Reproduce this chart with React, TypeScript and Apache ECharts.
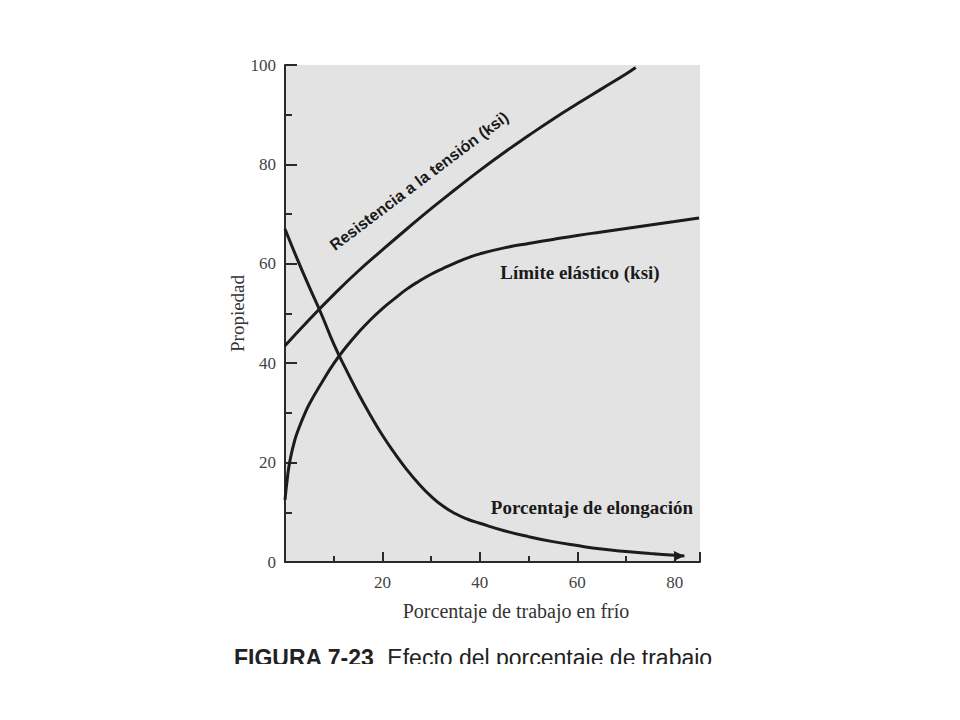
import React, { useEffect, useRef } from "react";
import * as echarts from "echarts";

const xTickLabels = [0, 20, 40, 60, 80];
const yTickLabels = [0, 20, 40, 60, 80, 100];

const tensileX = [0, 5, 10, 15, 20, 25, 30, 35, 40, 45, 50, 55, 60, 65, 70, 72];
const tensileY = [43.5, 48.8, 53.8, 58.5, 62.8, 67.0, 71.1, 75.0, 78.8, 82.4, 85.8, 89.1, 92.2, 95.2, 98.2, 99.5];

const yieldX = [0, 0.5, 1, 2, 3, 4, 5, 7.5, 10, 12.5, 15, 17.5, 20, 22.5, 25, 27.5, 30, 32.5, 35, 37.5, 40, 45, 50, 55, 60, 65, 70, 75, 80, 85];
const yieldY = [12.5, 17, 20.3, 24.5, 27.3, 29.7, 31.8, 36.0, 39.9, 43.2, 46.1, 48.7, 51.0, 53.0, 54.9, 56.5, 57.9, 59.1, 60.2, 61.2, 62.0, 63.2, 64.1, 64.9, 65.7, 66.4, 67.1, 67.8, 68.5, 69.2];

const elongX = [0, 2.5, 5, 7.5, 10, 12.5, 15, 17.5, 20, 22.5, 25, 27.5, 30, 32.5, 35, 37.5, 40, 45, 50, 55, 60, 65, 70, 75, 80, 82];
const elongY = [67, 61, 55.3, 49.8, 43.9, 38.8, 34.0, 29.6, 25.5, 21.9, 18.6, 15.7, 13.2, 11.2, 9.7, 8.6, 7.8, 6.3, 5.1, 4.1, 3.3, 2.6, 2.1, 1.7, 1.35, 1.2];

const seriesNames = ["Resistencia a la tensión (ksi)", "Límite elástico (ksi)", "Porcentaje de elongación"];
const xAxisName = "Porcentaje de trabajo en frío";
const yAxisName = "Propiedad";
const captionBold = "FIGURA 7-23";
const captionRest = "  Efecto del porcentaje de trabajo";

const zip = (xs: number[], ys: number[]) => xs.map((x, i) => [x, ys[i]]);

export default function App() {
  const ref = useRef<HTMLDivElement>(null);
  useEffect(() => {
    if (!ref.current) return;
    const chart = echarts.init(ref.current, undefined, { renderer: "svg" });
    const lineColor = "#1c1c1c";
    const serif = "'Liberation Serif', 'DejaVu Serif', serif";
    const elongData: any[] = zip(elongX, elongY).map((p, i, arr) =>
      i === arr.length - 1
        ? { value: p, symbol: "arrow", symbolSize: [8, 11], symbolRotate: -90, itemStyle: { color: lineColor } }
        : { value: p, symbol: "none" }
    );
    const lineSeries = (name: string, data: any[]) => ({
      name,
      type: "line",
      data,
      smooth: 0.5,
      symbol: "none",
      lineStyle: { color: lineColor, width: 3 },
    });
    chart.setOption({
      animation: false,
      backgroundColor: "#ffffff",
      grid: {
        left: 285,
        top: 65,
        width: 415,
        height: 497,
        show: true,
        backgroundColor: "#e3e3e3",
        borderWidth: 0,
      },
      xAxis: {
        type: "value",
        min: 0,
        max: 85.2,
        interval: 20,
        axisLine: { show: true, lineStyle: { color: "#2a2a2a", width: 2 } },
        axisTick: { show: true, inside: true, length: 10, lineStyle: { color: "#2a2a2a", width: 2 } },
        minorTick: { show: true, splitNumber: 2, length: 6, lineStyle: { color: "#2a2a2a", width: 2 } },
        splitLine: { show: false },
        axisLabel: {
          showMinLabel: false,
          margin: 12,
          color: "#444",
          fontFamily: serif,
          fontSize: 17,
          formatter: (v: number) => (xTickLabels.includes(v) ? String(v) : ""),
        },
      },
      yAxis: {
        type: "value",
        min: 0,
        max: 100,
        interval: 20,
        name: yAxisName,
        nameLocation: "middle",
        nameGap: 32,
        nameTextStyle: { color: "#333", fontFamily: serif, fontSize: 19 },
        axisLine: { show: true, lineStyle: { color: "#2a2a2a", width: 2 } },
        axisTick: { show: true, inside: true, length: 12, lineStyle: { color: "#2a2a2a", width: 2 } },
        minorTick: { show: true, splitNumber: 2, length: 7, lineStyle: { color: "#2a2a2a", width: 2 } },
        splitLine: { show: false },
        axisLabel: {
          margin: 9,
          color: "#444",
          fontFamily: serif,
          fontSize: 17,
          formatter: (v: number) => (yTickLabels.includes(v) ? String(v) : ""),
        },
      },
      series: [
        lineSeries(seriesNames[0], zip(tensileX, tensileY)),
        lineSeries(seriesNames[1], zip(yieldX, yieldY)),
        lineSeries(seriesNames[2], elongData),
      ],
      graphic: [
        {
          type: "text",
          x: 419,
          y: 181,
          rotation: (37 * Math.PI) / 180,
          style: {
            text: seriesNames[0],
            fill: "#1a1a1a",
            font: "bold 16px 'Liberation Sans', Arial, sans-serif",
            align: "center",
            verticalAlign: "middle",
          },
        },
        {
          type: "text",
          x: 580,
          y: 272,
          style: {
            text: seriesNames[1],
            fill: "#1a1a1a",
            font: "bold 19px 'Liberation Serif', serif",
            align: "center",
            verticalAlign: "middle",
          },
        },
        {
          type: "text",
          x: 592,
          y: 507,
          style: {
            text: seriesNames[2],
            fill: "#1a1a1a",
            font: "bold 19px 'Liberation Serif', serif",
            align: "center",
            verticalAlign: "middle",
          },
        },
        {
          type: "text",
          x: 516,
          y: 611,
          style: {
            text: xAxisName,
            fill: "#333",
            font: "20px 'Liberation Serif', serif",
            align: "center",
            verticalAlign: "middle",
          },
        },
        {
          type: "text",
          x: 234,
          y: 646,
          z: 10,
          style: {
            text: `{b|${captionBold}}{r|${captionRest}}`,
            rich: {
              b: { font: "bold 23px 'Liberation Sans', Arial, sans-serif", fill: "#222" },
              r: { font: "23px 'Liberation Sans', Arial, sans-serif", fill: "#222" },
            },
            verticalAlign: "top",
          },
        },
        {
          type: "rect",
          z: 20,
          shape: { x: 200, y: 664, width: 560, height: 40 },
          style: { fill: "#ffffff" },
        },
      ],
    });
    return () => chart.dispose();
  }, []);
  return <div ref={ref} style={{ position: "fixed", left: 0, top: 0, width: 960, height: 720 }} />;
}
